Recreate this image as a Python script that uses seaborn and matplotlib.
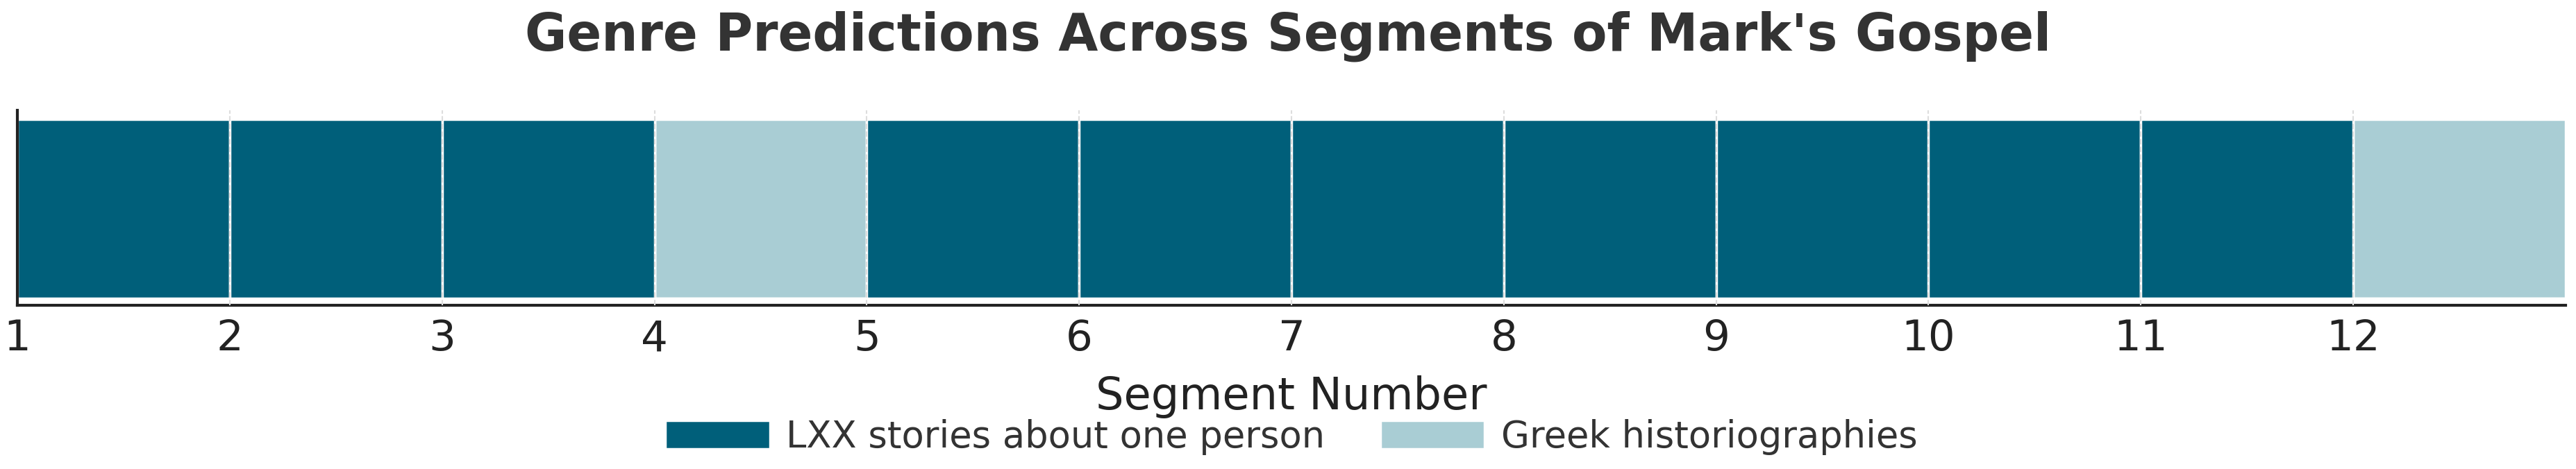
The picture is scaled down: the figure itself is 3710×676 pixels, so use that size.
import numpy as np
import pandas as pd
import seaborn as sns
import matplotlib.pyplot as plt

# segment -> predicted genre
segments = list(range(1, 13))
lxx = "LXX stories about one person"
greek = "Greek historiographies"
genres = [lxx, lxx, lxx, greek, lxx, lxx, lxx, lxx, lxx, lxx, lxx, greek]
genre_order = [lxx, greek]
colors = ["#005f7a", "#a9cdd4"]

df = pd.DataFrame({"Segment": segments, "Genre": genres})

sns.set_style("white")
plt.rcParams['font.family'] = ['DejaVu Sans']

fig = plt.figure(figsize=(37.1, 6.76), dpi=100)
ax = fig.add_axes([25/3710, 1 - 440/676, (3695 - 25)/3710, 281/676])

# one bin per segment, each bar height 1
sns.histplot(data=df, x="Segment", hue="Genre", hue_order=genre_order,
             palette=colors, bins=np.arange(1, 14), multiple="layer",
             alpha=1, edgecolor="white", linewidth=2.5, ax=ax)

for b in segments[1:]:
    ax.axvline(b, color="#dddddd", linestyle="--", linewidth=1.5, zorder=5)

ax.set_xlim(1, 13)
ax.set_ylim(-0.04, 1.05)
ax.set_yticks([])
ax.set_ylabel("")
ax.set_xticks(segments)
ax.tick_params(axis="x", direction="in", length=12, width=2.5, pad=14,
               labelsize=44, color="#222222", labelcolor="#222222")
sns.despine(ax=ax)
for s in ["left", "bottom"]:
    ax.spines[s].set_linewidth(3)
    ax.spines[s].set_color("#222222")

ax.set_xlabel("Segment Number", fontsize=46, color="#222222")
ax.xaxis.set_label_coords(0.5, -0.36)

sns.move_legend(ax, "center", bbox_to_anchor=(0.5, -0.675), ncol=2,
                frameon=False, title=None, fontsize=38,
                handlelength=2.85, handleheight=0.8, handletextpad=0.45,
                columnspacing=1.5)
for t in ax.get_legend().get_texts():
    t.set_color("#333333")

fig.suptitle("Genre Predictions Across Segments of Mark's Gospel",
             y=1 - 52/676, va="center", fontsize=53, fontweight="bold",
             color="#333333")

fig.savefig("out.png", dpi=100)
